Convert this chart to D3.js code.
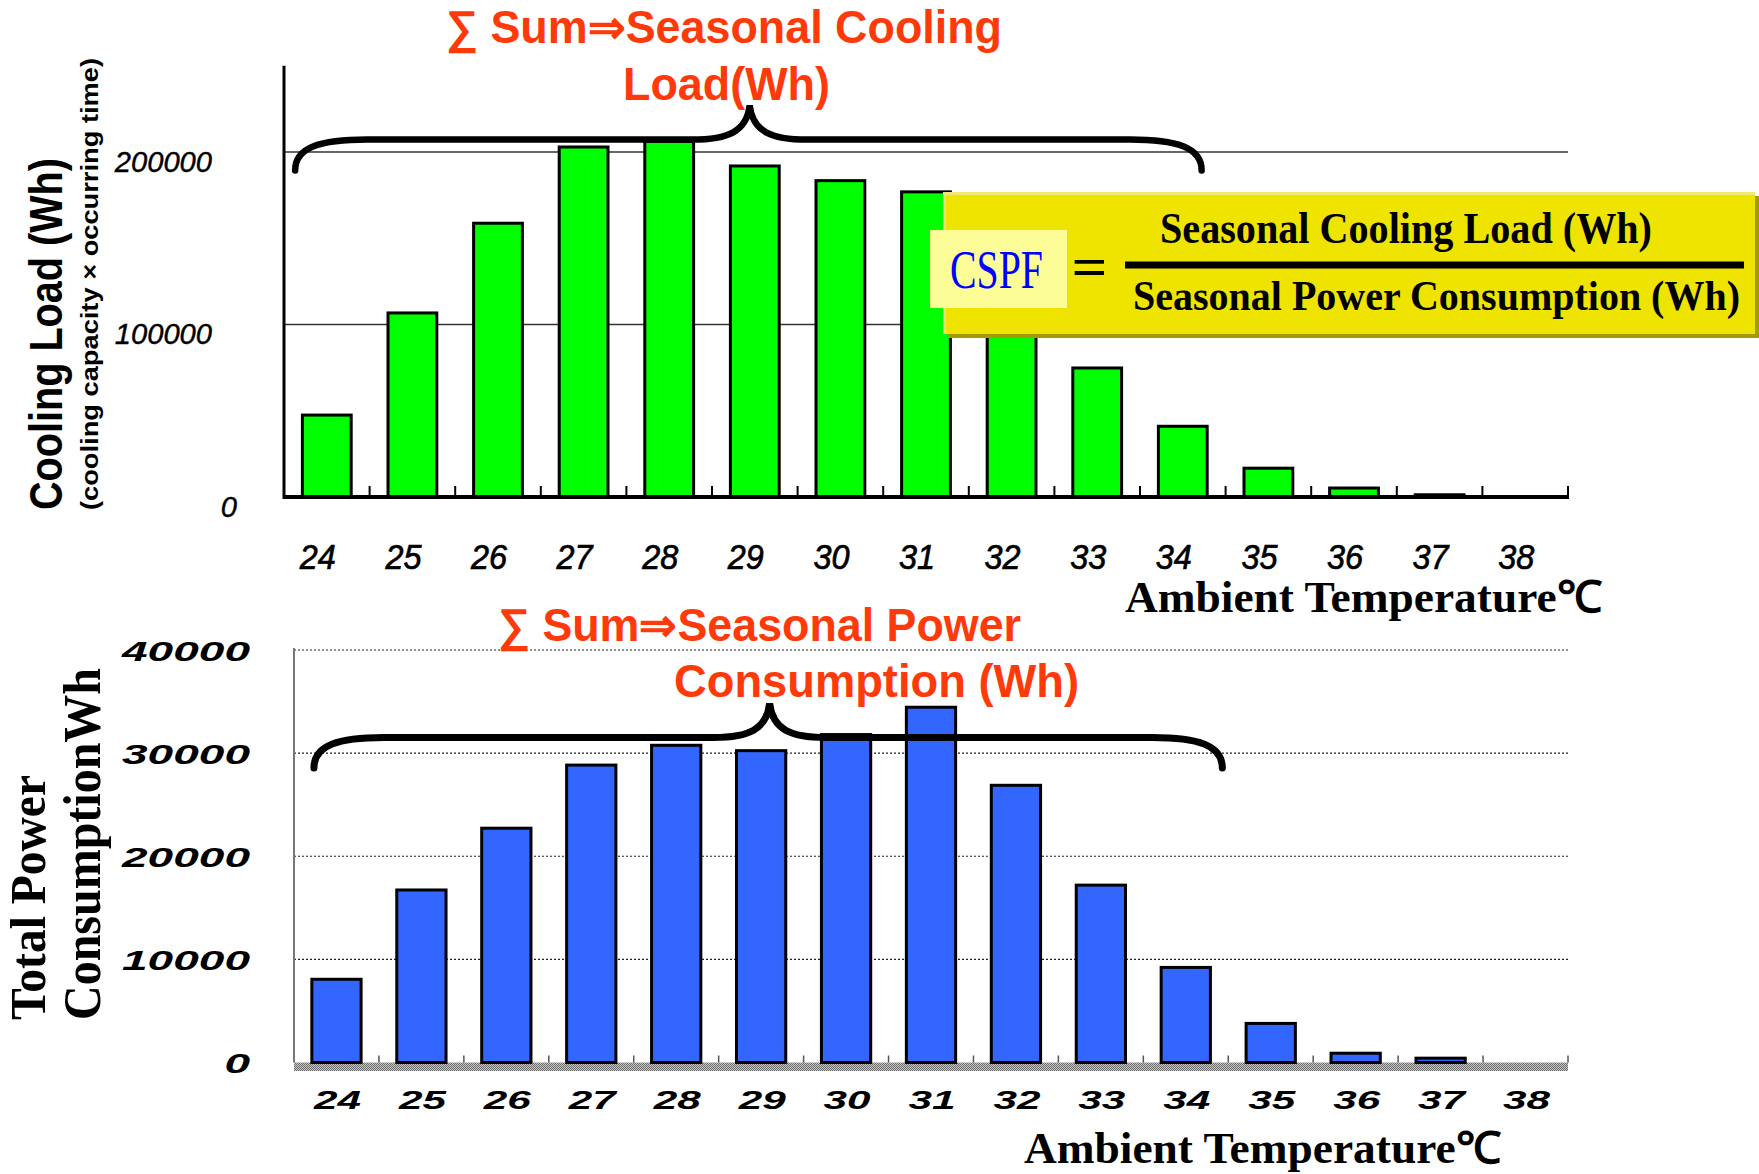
<!DOCTYPE html>
<html>
<head>
<meta charset="utf-8">
<script src="https://cdn.jsdelivr.net/npm/d3@7"></script>
<style>
  body { margin: 0; background: #fff; }
  svg { display: block; }
</style>
</head>
<body>
<svg id="chart" width="1759" height="1174"></svg>
<script>
// Ambient temperature bins (°C)
const temperatures = ["24","25","26","27","28","29","30","31","32","33","34","35","36","37","38"];
// Cooling load per bin (Wh) = cooling capacity × occurring time
const coolingLoad = [47500,106700,158700,202900,206200,191900,183400,176900,130000,74800,41000,16700,5200,1300,0];
// Total power consumption per bin (Wh)
const powerConsumption = [8070,16730,22720,28840,30760,30240,31800,34450,26880,17200,9220,3790,900,420,0];
// Value-axis ticks
const coolingTicks = [0,100000,200000];
const powerTicks = [0,10000,20000,30000,40000];

const SANS = "'Liberation Sans', Arial, Helvetica, sans-serif";
const SERIF = "'Liberation Serif', 'Times New Roman', Times, serif";
const RED = "#ff3a0a";

const svg = d3.select("#chart");

// fit a text element to a given width
function fit(sel, w) {
  sel.attr("textLength", w).attr("lengthAdjust", "spacingAndGlyphs");
  return sel;
}

// curly brace drawn between two x positions, ends at yEnd, bar at yBar, tip at yTip
function bracePath(x1, x2, xt, yEnd, yBar, yTip, r) {
  const p = d3.path();
  p.moveTo(x1, yEnd);
  p.bezierCurveTo(x1, yBar + (yEnd - yBar) * 0.25, x1 + r * 0.35, yBar, x1 + r, yBar);
  p.lineTo(xt - r * 0.8, yBar);
  p.bezierCurveTo(xt - r * 0.3, yBar, xt - 3, yBar - 8, xt, yTip);
  p.bezierCurveTo(xt + 3, yBar - 8, xt + r * 0.3, yBar, xt + r * 0.8, yBar);
  p.lineTo(x2 - r, yBar);
  p.bezierCurveTo(x2 - r * 0.35, yBar, x2, yBar + (yEnd - yBar) * 0.25, x2, yEnd);
  return p.toString();
}

/* ---------------- Upper chart: cooling load ---------------- */
const upper = svg.append("g");
const xTop = d3.scaleBand().domain(temperatures).range([284, 1568]).paddingInner(0.43).paddingOuter(0.215);
const yTop = d3.scaleLinear().domain([0, 250000]).range([497, 65.75]);
const stepTop = xTop.step();

// gridlines
upper.append("g").selectAll("line").data(coolingTicks.filter(v => v > 0)).join("line")
  .attr("x1", 284).attr("x2", 1568)
  .attr("y1", d => yTop(d)).attr("y2", d => yTop(d))
  .attr("stroke", "#333").attr("stroke-width", 1.6);

// bars
upper.append("g").selectAll("rect")
  .data(temperatures.map((t, i) => ({ t, v: coolingLoad[i] })).filter(d => d.v > 0))
  .join("rect")
  .attr("x", d => xTop(d.t)).attr("width", xTop.bandwidth())
  .attr("y", d => yTop(d.v)).attr("height", d => yTop(0) - yTop(d.v))
  .attr("fill", "#00ff00").attr("stroke", "#000").attr("stroke-width", 3);

// value axis line and baseline
upper.append("line").attr("x1", 284).attr("x2", 284).attr("y1", yTop(0) + 2).attr("y2", yTop(250000))
  .attr("stroke", "#000").attr("stroke-width", 3);
upper.append("line").attr("x1", 283).attr("x2", 1569).attr("y1", yTop(0)).attr("y2", yTop(0))
  .attr("stroke", "#000").attr("stroke-width", 4);
// category boundary ticks
upper.append("g").selectAll("line").data(d3.range(1, temperatures.length + 1)).join("line")
  .attr("x1", i => 284 + i * stepTop).attr("x2", i => 284 + i * stepTop)
  .attr("y1", yTop(0)).attr("y2", yTop(0) - 11)
  .attr("stroke", "#000").attr("stroke-width", 2);

// category labels
const xAxisTop = upper.append("g").attr("transform", "translate(0,569)")
  .call(d3.axisBottom(xTop).tickSize(0).tickPadding(0));
xAxisTop.select(".domain").remove();
xAxisTop.selectAll("text")
  .attr("y", 0).attr("dy", 0).attr("dx", -9)
  .attr("font-family", SANS).attr("font-style", "italic").attr("font-size", 35)
  .attr("fill", "#000").attr("stroke", "#000").attr("stroke-width", 0.7)
  .each(function () { fit(d3.select(this), 36); });

// value labels
const yAxisTop = upper.append("g").attr("transform", "translate(212,0)")
  .call(d3.axisLeft(yTop).tickValues(coolingTicks).tickSize(0).tickPadding(0).tickFormat(d3.format("d")));
yAxisTop.select(".domain").remove();
yAxisTop.selectAll("text")
  .attr("x", d => d === 0 ? 25 : 0).attr("dy", 19)
  .attr("font-family", SANS).attr("font-style", "italic").attr("font-size", 29).attr("fill", "#000")
  .attr("stroke", "#000").attr("stroke-width", 0.4)
  .each(function (d) { fit(d3.select(this), 16.2 * String(d).length); });

// axis titles
fit(upper.append("text").attr("x", 1125).attr("y", 612)
  .attr("font-family", SERIF).attr("font-weight", "bold").attr("font-size", 44).attr("fill", "#000")
  .text("Ambient Temperature℃"), 477);

fit(upper.append("text").attr("transform", "translate(62,510) rotate(-90)")
  .attr("font-family", SANS).attr("font-weight", "bold").attr("font-size", 46).attr("fill", "#000")
  .text("Cooling Load (Wh)"), 352);
fit(upper.append("text").attr("transform", "translate(98,510) rotate(-90)")
  .attr("font-family", SANS).attr("font-weight", "bold").attr("font-size", 24).attr("fill", "#000")
  .text("(cooling capacity × occurring time)"), 452);

// brace over the bins
upper.append("path")
  .attr("d", bracePath(284 + 0.13 * stepTop, 284 + 10.72 * stepTop, 284 + 5.44 * stepTop,
    yTop(189300), yTop(207200), yTop(227000), 72))
  .attr("fill", "none").attr("stroke", "#000").attr("stroke-width", 6.5).attr("stroke-linecap", "round");

// sum annotation
fit(upper.append("text").attr("x", 446).attr("y", 43)
  .attr("font-family", SANS).attr("font-weight", "bold").attr("font-size", 46).attr("fill", RED)
  .text("∑ Sum⇒Seasonal Cooling"), 556);
fit(upper.append("text").attr("x", 623).attr("y", 100)
  .attr("font-family", SANS).attr("font-weight", "bold").attr("font-size", 47).attr("fill", RED)
  .text("Load(Wh)"), 207);

/* ---------------- CSPF formula box ---------------- */
const box = svg.append("g");
box.append("rect").attr("x", 947).attr("y", 196).attr("width", 812).attr("height", 142).attr("fill", "#a39b00");
box.append("rect").attr("x", 943).attr("y", 192).attr("width", 812).attr("height", 142).attr("fill", "#eee400");
box.append("rect").attr("x", 943).attr("y", 192).attr("width", 812).attr("height", 3).attr("fill", "#f1e874");
box.append("rect").attr("x", 943).attr("y", 192).attr("width", 3).attr("height", 142).attr("fill", "#f1e874");
box.append("rect").attr("x", 930).attr("y", 230).attr("width", 137).attr("height", 78).attr("fill", "#fdfd98");
fit(box.append("text").attr("transform", "translate(950,288) scale(1,1.15)")
  .attr("font-family", SERIF).attr("font-size", 47).attr("fill", "#0000ff").text("CSPF"), 93);
fit(box.append("text").attr("x", 1071).attr("y", 285)
  .attr("font-family", SERIF).attr("font-weight", "bold").attr("font-style", "italic")
  .attr("font-size", 54).attr("fill", "#000").text("="), 36);
box.append("rect").attr("x", 1125).attr("y", 261.5).attr("width", 619).attr("height", 7).attr("fill", "#000");
fit(box.append("text").attr("transform", "translate(1160,243) scale(1,1.06)")
  .attr("font-family", SERIF).attr("font-weight", "bold").attr("font-size", 41).attr("fill", "#000")
  .text("Seasonal Cooling Load (Wh)"), 492);
fit(box.append("text").attr("transform", "translate(1133,310) scale(1,1.1)")
  .attr("font-family", SERIF).attr("font-weight", "bold").attr("font-size", 39).attr("fill", "#000")
  .text("Seasonal Power Consumption (Wh)"), 607);

/* ---------------- Lower chart: power consumption ---------------- */
const lower = svg.append("g");
const xBot = d3.scaleBand().domain(temperatures).range([294, 1568]).paddingInner(0.42).paddingOuter(0.21);
const yBot = d3.scaleLinear().domain([0, 40000]).range([1062.5, 650]);
const stepBot = xBot.step();

const defs = svg.append("defs");
const pat = defs.append("pattern").attr("id", "floor").attr("width", 2).attr("height", 2)
  .attr("patternUnits", "userSpaceOnUse");
pat.append("rect").attr("width", 2).attr("height", 2).attr("fill", "#c8c8c8");
pat.append("rect").attr("width", 1).attr("height", 1).attr("fill", "#6a6a6a");
pat.append("rect").attr("x", 1).attr("y", 1).attr("width", 1).attr("height", 1).attr("fill", "#6a6a6a");

// dotted gridlines
lower.append("g").selectAll("line").data(powerTicks.filter(v => v > 0)).join("line")
  .attr("x1", 294).attr("x2", 1568)
  .attr("y1", d => yBot(d)).attr("y2", d => yBot(d))
  .attr("stroke", "#222").attr("stroke-width", 1.2).attr("stroke-dasharray", "2,2");

// floor band and value axis line
lower.append("rect").attr("x", 294).attr("y", yBot(0)).attr("width", 1274).attr("height", 8.5).attr("fill", "url(#floor)");
lower.append("line").attr("x1", 294).attr("x2", 294).attr("y1", yBot(0)).attr("y2", yBot(40000) - 2)
  .attr("stroke", "#777").attr("stroke-width", 2);
lower.append("g").selectAll("line").data(d3.range(1, temperatures.length + 1)).join("line")
  .attr("x1", i => 294 + i * stepBot).attr("x2", i => 294 + i * stepBot)
  .attr("y1", yBot(0)).attr("y2", yBot(0) - 7)
  .attr("stroke", "#555").attr("stroke-width", 1.5);

// bars
lower.append("g").selectAll("rect")
  .data(temperatures.map((t, i) => ({ t, v: powerConsumption[i] })).filter(d => d.v > 0))
  .join("rect")
  .attr("x", d => xBot(d.t)).attr("width", xBot.bandwidth())
  .attr("y", d => yBot(d.v)).attr("height", d => yBot(0) - yBot(d.v))
  .attr("fill", "#3366ff").attr("stroke", "#000").attr("stroke-width", 3);

// category labels
const xAxisBot = lower.append("g").attr("transform", "translate(0,1109)")
  .call(d3.axisBottom(xBot).tickSize(0).tickPadding(0));
xAxisBot.select(".domain").remove();
xAxisBot.selectAll("text")
  .attr("y", 0).attr("dy", 0).attr("dx", 1)
  .attr("font-family", SANS).attr("font-style", "italic").attr("font-weight", "bold")
  .attr("font-size", 25).attr("fill", "#000")
  .each(function () { fit(d3.select(this), 47); });

// value labels
const yAxisBot = lower.append("g").attr("transform", "translate(250,0)")
  .call(d3.axisLeft(yBot).tickValues(powerTicks).tickSize(0).tickPadding(0).tickFormat(d3.format("d")));
yAxisBot.select(".domain").remove();
yAxisBot.selectAll("text")
  .attr("x", 0).attr("dy", 10)
  .attr("font-family", SANS).attr("font-style", "italic").attr("font-weight", "bold")
  .attr("font-size", 27).attr("fill", "#000")
  .each(function (d) { fit(d3.select(this), 25.6 * String(d).length); });

// axis titles
fit(lower.append("text").attr("x", 1024).attr("y", 1163)
  .attr("font-family", SERIF).attr("font-weight", "bold").attr("font-size", 44).attr("fill", "#000")
  .text("Ambient Temperature℃"), 477);
fit(lower.append("text").attr("transform", "translate(45,1020) rotate(-90)")
  .attr("font-family", SERIF).attr("font-weight", "bold").attr("font-size", 50).attr("fill", "#000")
  .text("Total Power"), 245);
fit(lower.append("text").attr("transform", "translate(100,1020) rotate(-90)")
  .attr("font-family", SERIF).attr("font-weight", "bold").attr("font-size", 52).attr("fill", "#000")
  .text("ConsumptionWh"), 352);

// brace over the bins
lower.append("path")
  .attr("d", bracePath(294 + 0.235 * stepBot, 294 + 10.93 * stepBot, 294 + 5.6 * stepBot,
    yBot(28560), yBot(31520), yBot(34820), 70))
  .attr("fill", "none").attr("stroke", "#000").attr("stroke-width", 7).attr("stroke-linecap", "round");

// sum annotation
fit(lower.append("text").attr("x", 498).attr("y", 641)
  .attr("font-family", SANS).attr("font-weight", "bold").attr("font-size", 46).attr("fill", RED)
  .text("∑ Sum⇒Seasonal Power"), 523);
fit(lower.append("text").attr("x", 674).attr("y", 697)
  .attr("font-family", SANS).attr("font-weight", "bold").attr("font-size", 46).attr("fill", RED)
  .text("Consumption (Wh)"), 405);
</script>
</body>
</html>
